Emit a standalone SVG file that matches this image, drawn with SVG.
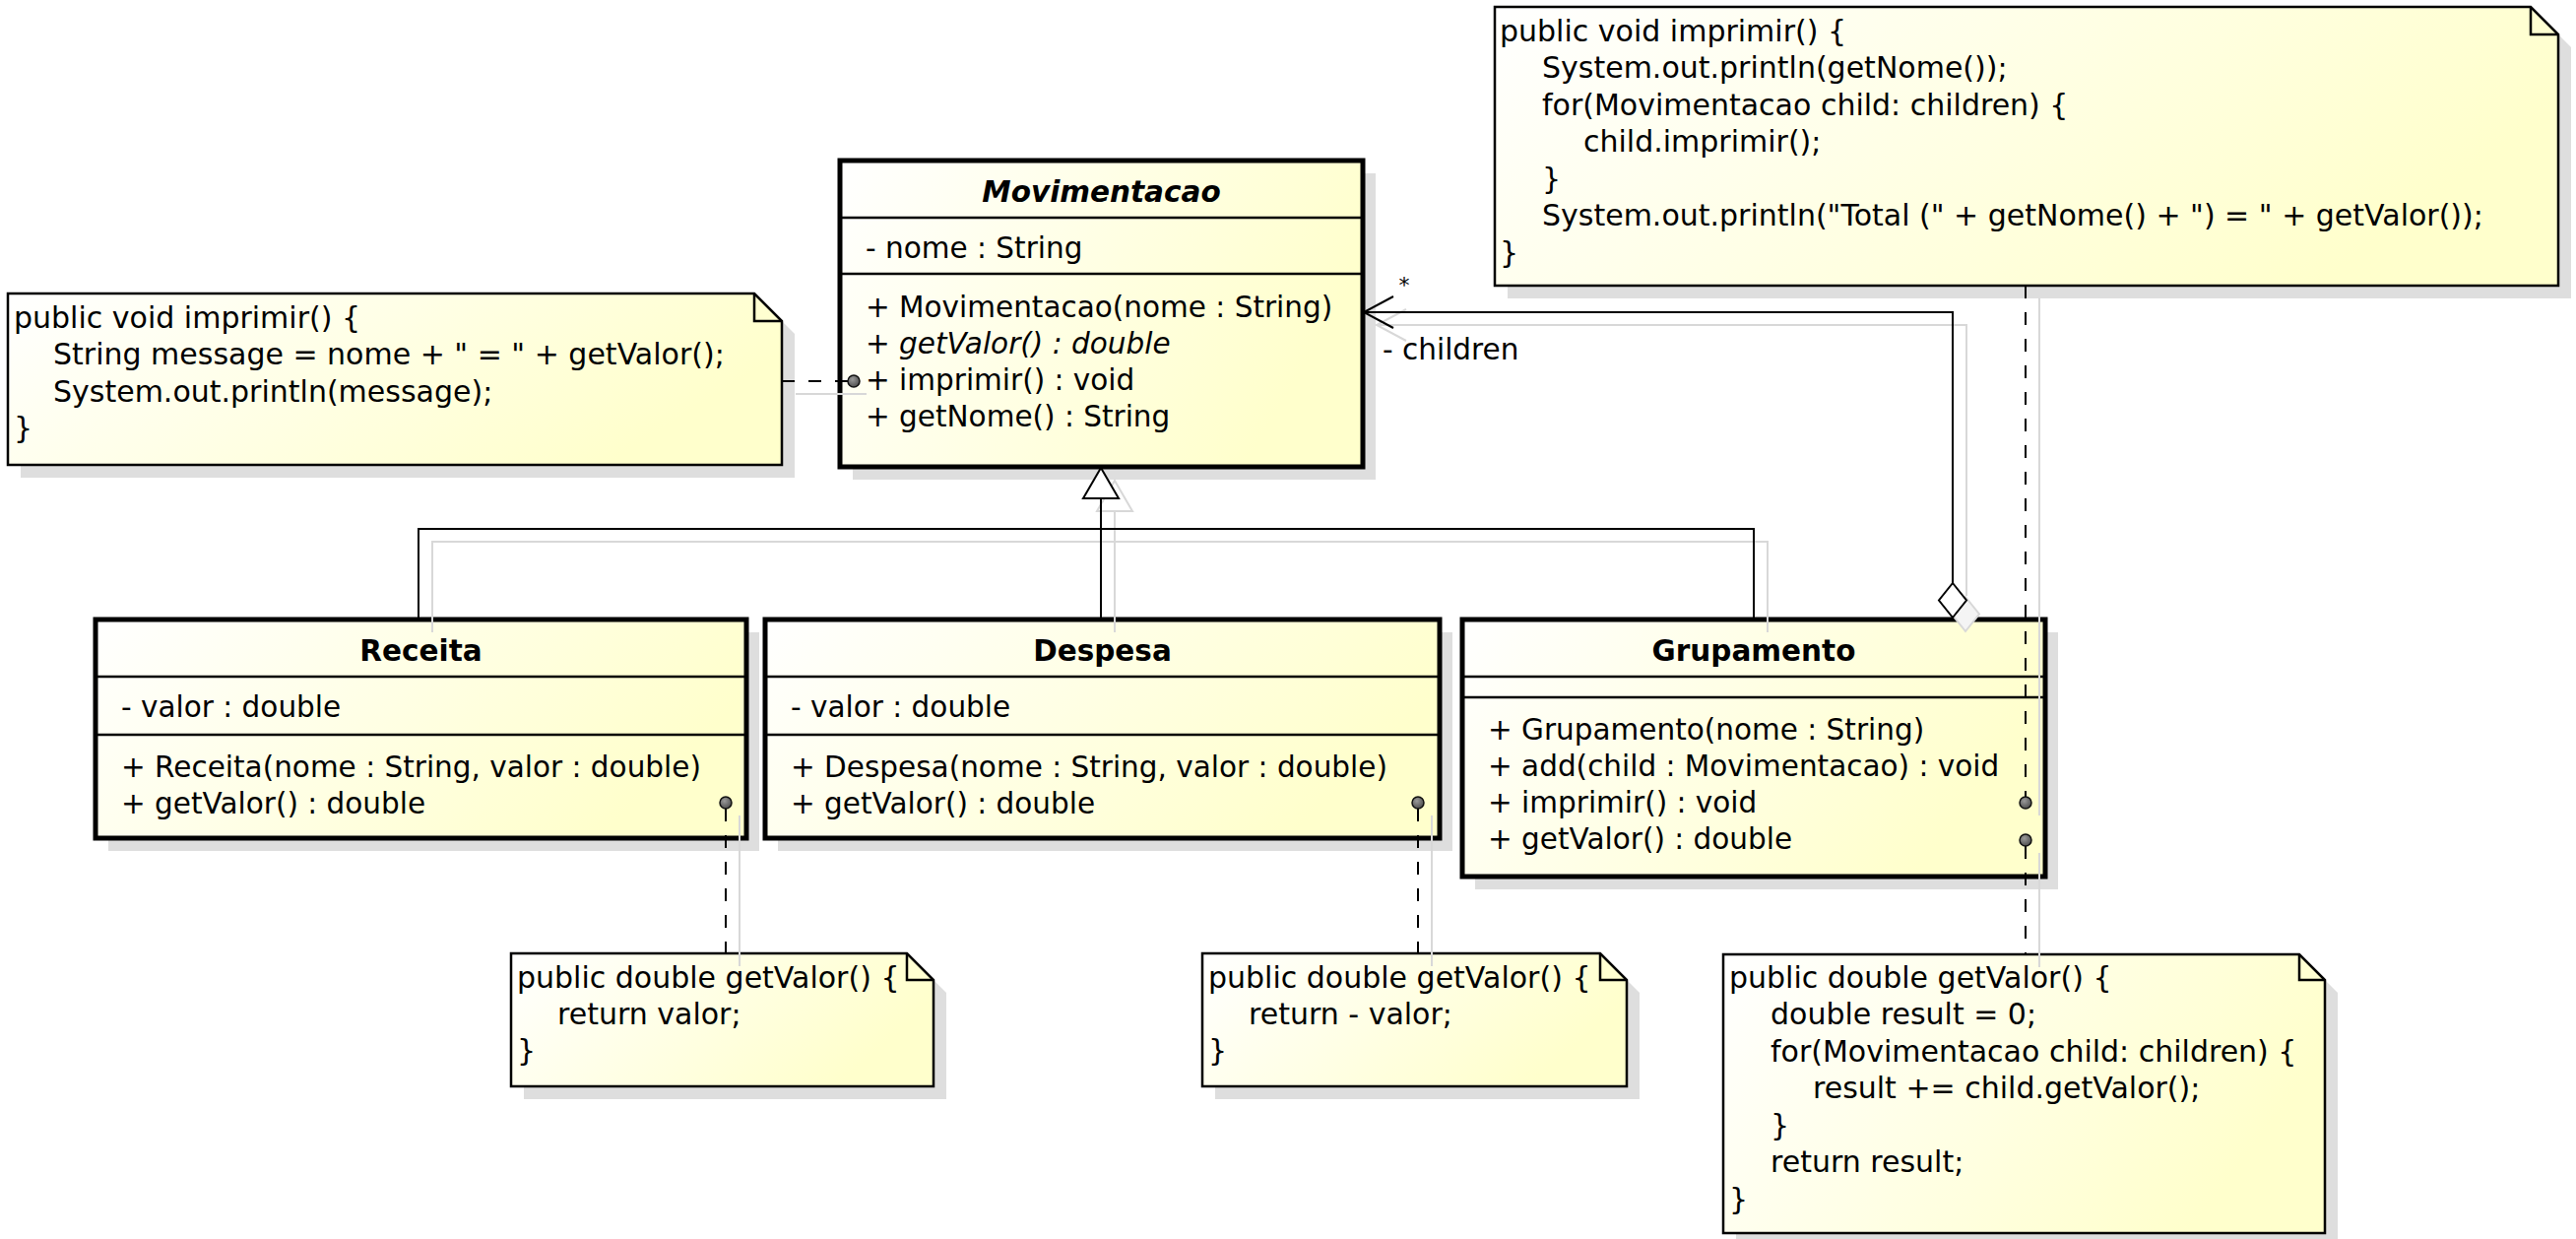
<svg xmlns="http://www.w3.org/2000/svg" width="2616" height="1258" viewBox="0 0 2616 1258">
<defs>
<linearGradient id="g" x1="0" y1="0" x2="1" y2="0.35">
<stop offset="0" stop-color="#ffffff"/>
<stop offset="1" stop-color="#ffffcc"/>
</linearGradient>
<radialGradient id="dg" cx="0.4" cy="0.35" r="0.7">
<stop offset="0" stop-color="#9a9a9a"/>
<stop offset="1" stop-color="#4a4a4a"/>
</radialGradient>
<style>
.box{fill:url(#g);stroke:#000;stroke-width:5}
.shadow{fill:#dedede}
.sep{stroke:#000;stroke-width:2.5}
.note{fill:url(#g);stroke:#000;stroke-width:2.5}
.fold{fill:none;stroke:#000;stroke-width:2.5}
.t{font-family:"DejaVu Sans",sans-serif;font-size:29.5px;fill:#000}
.n{font-size:30px}
.title{font-weight:bold;text-anchor:middle}
.it{font-style:italic}
.conn{stroke:#000;stroke-width:2;fill:none}
.dash{stroke-dasharray:13 14}
.cs{stroke:#d8d8d8;stroke-width:2;fill:none}
.dot{fill:url(#dg);stroke:#111;stroke-width:1.5}
</style>
</defs>
<rect width="2616" height="1258" fill="#ffffff"/>

<g id="shadows">
<rect class="shadow" x="866" y="176" width="531" height="311"/>
<rect class="shadow" x="110" y="642" width="661" height="222"/>
<rect class="shadow" x="790" y="642" width="685" height="222"/>
<rect class="shadow" x="1498" y="642" width="592" height="261"/>
<polygon class="shadow" points="21,311 779,311 807,339 807,485 21,485"/>
<polygon class="shadow" points="1531,20 2583,20 2611,48 2611,303 1531,303"/>
<polygon class="shadow" points="532,981 934,981 961,1008 961,1116 532,1116"/>
<polygon class="shadow" points="1234,981 1638,981 1665,1008 1665,1116 1234,1116"/>
<polygon class="shadow" points="1763,982 2348,982 2374,1008 2374,1265 1763,1265"/>
</g>

<g id="movimentacao">
<rect class="box" x="853" y="163" width="531" height="311"/>
<line class="sep" x1="853" y1="221" x2="1384" y2="221"/>
<line class="sep" x1="853" y1="278" x2="1384" y2="278"/>
<text class="t title it" x="1118.5" y="205">Movimentacao</text>
<text class="t" x="879" y="262">- nome : String</text>
<text class="t" x="879" y="322">+ Movimentacao(nome : String)</text>
<text class="t it" x="879" y="359">+ getValor() : double</text>
<text class="t" x="879" y="396">+ imprimir() : void</text>
<text class="t" x="879" y="433">+ getNome() : String</text>
</g>

<g id="receita">
<rect class="box" x="97" y="629" width="661" height="222"/>
<line class="sep" x1="97" y1="687" x2="758" y2="687"/>
<line class="sep" x1="97" y1="746" x2="758" y2="746"/>
<text class="t title" x="427.5" y="671">Receita</text>
<text class="t" x="123" y="728">- valor : double</text>
<text class="t" x="123" y="789">+ Receita(nome : String, valor : double)</text>
<text class="t" x="123" y="826">+ getValor() : double</text>
</g>

<g id="despesa">
<rect class="box" x="777" y="629" width="685" height="222"/>
<line class="sep" x1="777" y1="687" x2="1462" y2="687"/>
<line class="sep" x1="777" y1="746" x2="1462" y2="746"/>
<text class="t title" x="1119.5" y="671">Despesa</text>
<text class="t" x="803" y="728">- valor : double</text>
<text class="t" x="803" y="789">+ Despesa(nome : String, valor : double)</text>
<text class="t" x="803" y="826">+ getValor() : double</text>
</g>

<g id="grupamento">
<rect class="box" x="1485" y="629" width="592" height="261"/>
<line class="sep" x1="1485" y1="687" x2="2077" y2="687"/>
<line class="sep" x1="1485" y1="708" x2="2077" y2="708"/>
<text class="t title" x="1781" y="671">Grupamento</text>
<text class="t" x="1511" y="751">+ Grupamento(nome : String)</text>
<text class="t" x="1511" y="788">+ add(child : Movimentacao) : void</text>
<text class="t" x="1511" y="825">+ imprimir() : void</text>
<text class="t" x="1511" y="862">+ getValor() : double</text>
</g>

<g id="note-movimentacao-imprimir">
<polygon class="note" points="8,298 766,298 794,326 794,472 8,472"/>
<polyline class="fold" points="766,298 766,326 794,326"/>
<text class="t n" x="14" y="333">public void imprimir() {</text>
<text class="t n" x="54" y="370">String message = nome + " = " + getValor();</text>
<text class="t n" x="54" y="408">System.out.println(message);</text>
<text class="t n" x="14" y="445">}</text>
</g>

<g id="note-grupamento-imprimir">
<polygon class="note" points="1518,7 2570,7 2598,35 2598,290 1518,290"/>
<polyline class="fold" points="2570,7 2570,35 2598,35"/>
<text class="t n" x="1523" y="42">public void imprimir() {</text>
<text class="t n" x="1566" y="79">System.out.println(getNome());</text>
<text class="t n" x="1566" y="117">for(Movimentacao child: children) {</text>
<text class="t n" x="1608" y="154">child.imprimir();</text>
<text class="t n" x="1566" y="192">}</text>
<text class="t n" x="1566" y="229">System.out.println("Total (" + getNome() + ") = " + getValor());</text>
<text class="t n" x="1523" y="267">}</text>
</g>

<g id="note-receita-getvalor">
<polygon class="note" points="519,968 921,968 948,995 948,1103 519,1103"/>
<polyline class="fold" points="921,968 921,995 948,995"/>
<text class="t n" x="525" y="1003">public double getValor() {</text>
<text class="t n" x="566" y="1040">return valor;</text>
<text class="t n" x="525" y="1077">}</text>
</g>

<g id="note-despesa-getvalor">
<polygon class="note" points="1221,968 1625,968 1652,995 1652,1103 1221,1103"/>
<polyline class="fold" points="1625,968 1625,995 1652,995"/>
<text class="t n" x="1227" y="1003">public double getValor() {</text>
<text class="t n" x="1268" y="1040">return - valor;</text>
<text class="t n" x="1227" y="1077">}</text>
</g>

<g id="note-grupamento-getvalor">
<polygon class="note" points="1750,969 2335,969 2361,995 2361,1252 1750,1252"/>
<polyline class="fold" points="2335,969 2335,995 2361,995"/>
<text class="t n" x="1756" y="1003">public double getValor() {</text>
<text class="t n" x="1798" y="1040">double result = 0;</text>
<text class="t n" x="1798" y="1078">for(Movimentacao child: children) {</text>
<text class="t n" x="1841" y="1115">result += child.getValor();</text>
<text class="t n" x="1798" y="1153">}</text>
<text class="t n" x="1798" y="1190">return result;</text>
<text class="t n" x="1756" y="1228">}</text>
</g>

<g id="connector-shadows">
<path class="cs" d="M439,642 V550 H1795 V642"/>
<path class="cs" d="M1132,642 V519"/>
<polygon class="cs" points="1132,488 1114,519 1150,519"/>
<path class="cs" d="M1997,605 V330 H1398"/>
<polyline class="cs" points="1428,314 1398,330 1428,346"/>
<polygon class="cs" points="1996,606 2010,623.5 1996,641 1982,623.5" style="fill:#f4f4f4"/>
<path class="cs" d="M808,400 H880"/>
<path class="cs" d="M2071,303 V828"/>
<path class="cs" d="M2071,866 V982"/>
<path class="cs" d="M751,828 V981"/>
<path class="cs" d="M1454,828 V981"/>
</g>

<g id="connectors">
<path class="conn" d="M425,629 V537 H1781 V629"/>
<path class="conn" d="M1118,629 V506"/>
<polygon class="conn" points="1118,475 1100,506 1136,506" style="fill:#ffffff"/>
<path class="conn" d="M1983,592 V317 H1385"/>
<polyline class="conn" points="1415,301 1385,317 1415,333"/>
<polygon class="conn" points="1983,592 1997,609.5 1983,627 1969,609.5" style="fill:#ffffff"/>
<text class="t" x="1426" y="297" style="font-size:22px;text-anchor:middle">*</text>
<text class="t" x="1404" y="365">- children</text>
<path class="conn dash" d="M794,387 H861"/>
<circle class="dot" cx="867" cy="387" r="6"/>
<path class="conn dash" d="M2057,290 V809"/>
<circle class="dot" cx="2057" cy="815" r="6"/>
<path class="conn dash" d="M2057,859 V969"/>
<circle class="dot" cx="2057" cy="853" r="6"/>
<path class="conn dash" d="M737,821 V968"/>
<circle class="dot" cx="737" cy="815" r="6"/>
<path class="conn dash" d="M1440,821 V968"/>
<circle class="dot" cx="1440" cy="815" r="6"/>
</g>
</svg>
